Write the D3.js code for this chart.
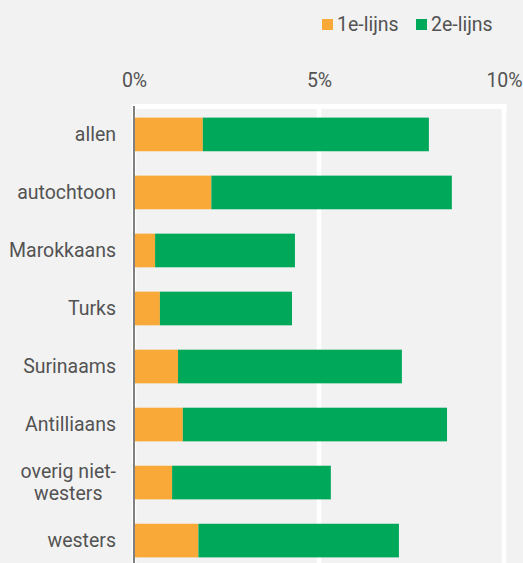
<!DOCTYPE html>
<html>
<head>
<meta charset="utf-8">
<script src="https://cdnjs.cloudflare.com/ajax/libs/d3/7.8.5/d3.min.js"></script>
<style>
  html, body { margin: 0; padding: 0; background: #f2f2f2; }
  svg { display: block; font-family: Roboto, "Noto Sans", sans-serif; }
</style>
</head>
<body>
<div id="chart"></div>
<script>
var groepen = ["allen", "autochtoon", "Marokkaans", "Turks", "Surinaams", "Antilliaans", "overig niet-westers", "westers"];
var eersteLijns = [1.86, 2.09, 0.57, 0.70, 1.19, 1.32, 1.03, 1.74];
var tweedeLijns = [6.11, 6.50, 3.78, 3.57, 6.05, 7.14, 4.29, 5.42];
var reeksen = ["1e-lijns", "2e-lijns"];
var kleuren = ["#f9a938", "#00a85a"];
var ticks = [0, 5, 10];

var width = 523, height = 563;
var textColor = "#535353";
var fontSize = "19.5px";

var data = groepen.map(function (g, i) {
    return { groep: g, "1e-lijns": eersteLijns[i], "2e-lijns": tweedeLijns[i] };
});
var stacked = d3.stack().keys(reeksen)(data);

var x = d3.scaleLinear().domain([0, 10]).range([134, 504]);
var y = d3.scaleBand().domain(groepen).range([106, 569])
    .paddingInner(0.42).paddingOuter(0.2);
var color = d3.scaleOrdinal().domain(reeksen).range(kleuren);

var svg = d3.select("#chart").append("svg")
    .attr("width", width)
    .attr("height", height);

svg.append("rect").attr("width", width).attr("height", height).attr("fill", "#f2f2f2");

// white grid
svg.append("g").selectAll("line")
    .data(ticks).enter()
    .append("line")
    .attr("x1", function (d) { return x(d); })
    .attr("x2", function (d) { return x(d); })
    .attr("y1", 104)
    .attr("y2", height)
    .attr("stroke", "#fff")
    .attr("stroke-width", 4.5);
svg.append("line")
    .attr("x1", x(0)).attr("x2", x(10) + 2.5)
    .attr("y1", 106.5).attr("y2", 106.5)
    .attr("stroke", "#fff").attr("stroke-width", 5);

// bars
svg.append("g").selectAll("g")
    .data(stacked).enter()
    .append("g")
    .attr("fill", function (d) { return color(d.key); })
    .selectAll("rect")
    .data(function (d) { return d; }).enter()
    .append("rect")
    .attr("x", function (d) { return x(d[0]); })
    .attr("width", function (d) { return x(d[1]) - x(d[0]); })
    .attr("y", function (d) { return y(d.data.groep); })
    .attr("height", y.bandwidth());

// axis line at 0
svg.append("line")
    .attr("x1", x(0)).attr("x2", x(0))
    .attr("y1", 106).attr("y2", height)
    .attr("stroke", "#808080").attr("stroke-width", 2);

// top axis
var xAxis = svg.append("g")
    .attr("transform", "translate(0,106)")
    .call(d3.axisTop(x).tickValues(ticks).tickSize(0).tickPadding(19)
        .tickFormat(function (d) { return d + "%"; }));
xAxis.select(".domain").remove();
xAxis.selectAll("text")
    .attr("fill", textColor)
    .style("font-size", fontSize)
    .style("font-family", "Roboto, sans-serif");

// category labels
var labelRight = x(0) - 18;
var labels = svg.append("g").selectAll("text")
    .data(groepen).enter()
    .append("text")
    .attr("fill", textColor)
    .style("font-size", fontSize)
    .attr("text-anchor", "end");

labels.each(function (g) {
    var t = d3.select(this);
    var cy = y(g) + y.bandwidth() / 2;
    var lines = g === "overig niet-westers" ? ["overig niet-", "westers"] : [g];
    var lh = 22;
    lines.forEach(function (l, i) {
        t.append("tspan")
            .attr("x", labelRight)
            .attr("y", cy + (i - (lines.length - 1) / 2) * lh)
            .attr("dy", "0.35em")
            .text(l);
    });
    if (lines.length > 1) {
        var maxW = 0;
        t.selectAll("tspan").each(function () {
            maxW = Math.max(maxW, this.getComputedTextLength());
        });
        t.attr("text-anchor", "middle");
        t.selectAll("tspan").attr("x", labelRight - maxW / 2);
    }
});

// legend
var legendX = [322, 416];
var legend = svg.append("g").selectAll("g")
    .data(reeksen).enter()
    .append("g")
    .attr("transform", function (d, i) { return "translate(" + legendX[i] + ",19)"; });
legend.append("rect")
    .attr("width", 11).attr("height", 11)
    .attr("fill", function (d) { return color(d); });
legend.append("text")
    .attr("x", 15).attr("y", 12)
    .attr("fill", textColor)
    .style("font-size", fontSize)
    .text(function (d) { return d; });
</script>
</body>
</html>
